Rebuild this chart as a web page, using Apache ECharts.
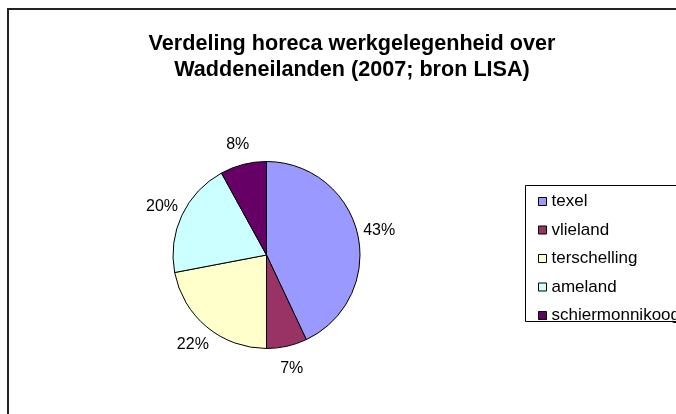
<!DOCTYPE html>
<html>
<head>
<meta charset="utf-8">
<script src="https://cdn.jsdelivr.net/npm/echarts@6/dist/echarts.min.js"></script>
<style>
  html, body { margin: 0; padding: 0; background: #fff; }
  #chart { width: 676px; height: 414px; }
</style>
</head>
<body>
<div id="chart"></div>
<script>
const titleLines = ['Verdeling horeca werkgelegenheid over', 'Waddeneilanden (2007; bron LISA)']
const islands = ['texel', 'vlieland', 'terschelling', 'ameland', 'schiermonnikoog']
const shares = [43, 7, 22, 20, 8]
const colors = ['#9999FF', '#993366', '#FFFFCC', '#CCFFFF', '#660066']

const labelOffset = 22 // label centre distance beyond the pie edge

const chart = echarts.init(document.getElementById('chart'))

chart.setOption({
  animation: false,
  backgroundColor: '#fff',
  color: colors,
  title: {
    text: titleLines.join('\n'),
    left: 347,
    top: 26,
    textAlign: 'center',
    textStyle: {
      fontFamily: 'Liberation Sans, Arial, sans-serif',
      fontSize: 21.6,
      fontWeight: 'bold',
      lineHeight: 26,
      color: '#000'
    }
  },
  graphic: [
    {
      type: 'rect',
      shape: { x: 8, y: 9, width: 720, height: 440 },
      style: { fill: null, stroke: '#222', lineWidth: 2 },
      silent: true
    },
    {
      type: 'rect',
      shape: { x: 525.5, y: 185.5, width: 200, height: 136 },
      style: { fill: '#fff', stroke: '#000', lineWidth: 1 },
      silent: true,
      z: -1
    }
  ],
  legend: {
    orient: 'vertical',
    left: 533,
    top: 188,
    itemWidth: 8,
    itemHeight: 8,
    itemGap: 11.5,
    icon: 'rect',
    selectedMode: false,
    itemStyle: { borderColor: '#000', borderWidth: 1 },
    textStyle: {
      fontFamily: 'Liberation Sans, Arial, sans-serif',
      fontSize: 17,
      lineHeight: 16,
      color: '#000'
    },
    data: islands
  },
  series: [
    {
      type: 'pie',
      center: [266.5, 255],
      radius: 93.5,
      startAngle: 90,
      clockwise: true,
      avoidLabelOverlap: false,
      itemStyle: { borderColor: '#000', borderWidth: 1 },
      emphasis: { disabled: true },
      label: {
        show: true,
        position: 'outside',
        formatter: '{d}%',
        fontFamily: 'Liberation Sans, Arial, sans-serif',
        fontSize: 16,
        color: '#000'
      },
      labelLine: { show: false },
      labelLayout: function (params) {
        const layout = chart.getModel().getSeriesByIndex(0).getData().getItemLayout(params.dataIndex)
        const mid = (layout.startAngle + layout.endAngle) / 2
        const d = layout.r + labelOffset
        return {
          x: layout.cx + Math.cos(mid) * d,
          y: layout.cy + Math.sin(mid) * d + 1,
          align: 'center',
          verticalAlign: 'middle'
        }
      },
      data: islands.map((name, i) => ({ name: name, value: shares[i] }))
    }
  ]
})
</script>
</body>
</html>
